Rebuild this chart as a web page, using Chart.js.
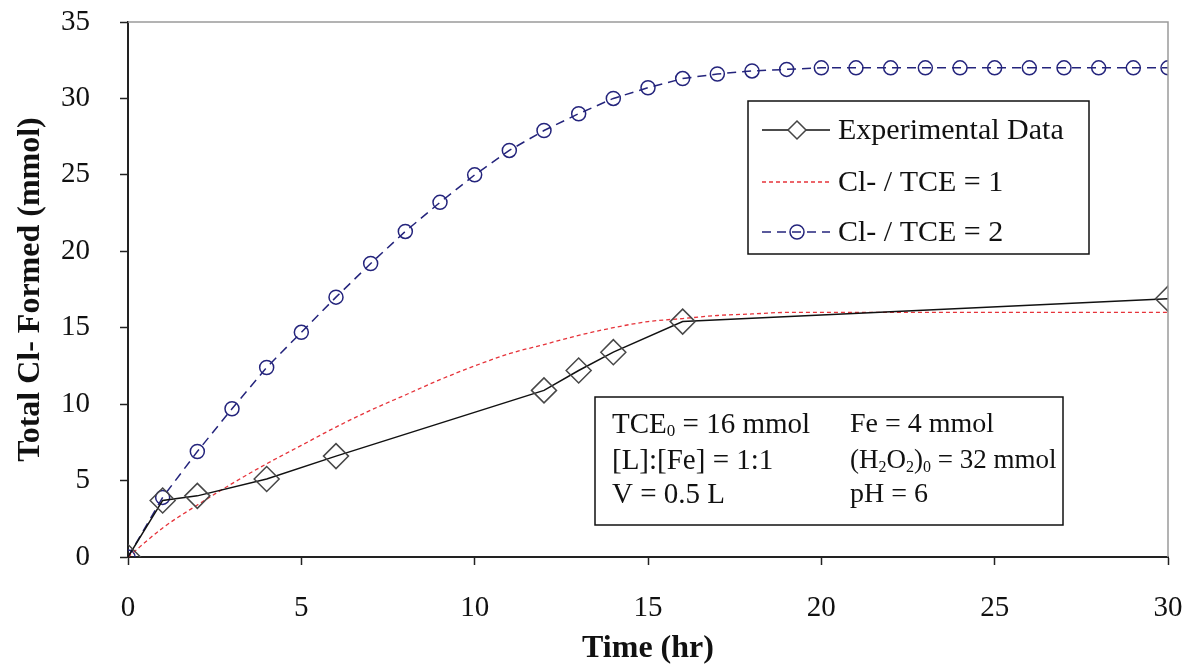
<!DOCTYPE html>
<html>
<head>
<meta charset="utf-8">
<script src="https://cdn.jsdelivr.net/npm/chart.js@4.4.1/dist/chart.umd.min.js"></script>
<style>
  html, body { margin: 0; padding: 0; background: #fff; }
  #wrap { width: 1186px; height: 672px; }
</style>
</head>
<body>
<div id="wrap"><canvas id="chart" width="1186" height="672"></canvas></div>
<script>
// Experimental data (diamonds)
const expTimes = [0, 1, 2, 4, 6, 12, 13, 14, 16, 30];
const expValues = [0, 3.7, 4.0, 5.1, 6.6, 10.9, 12.2, 13.4, 15.4, 16.9];

// Model curves, one value per hour
const modelTimes = [0, 1, 2, 3, 4, 5, 6, 7, 8, 9, 10, 11, 12, 13, 14, 15, 16, 17, 18, 19, 20,
  21, 22, 23, 24, 25, 26, 27, 28, 29, 30];
const ratio1Values = [0, 1.9, 3.4, 4.8, 6.1, 7.3, 8.5, 9.6, 10.6, 11.6, 12.5, 13.3, 13.9, 14.5, 15.0,
  15.4, 15.6, 15.8, 15.9, 16.0, 16.0, 16.0, 16.0, 16.0, 16.0, 16.0, 16.0, 16.0, 16.0, 16.0, 16.0];
const ratio2Values = [0, 3.9, 6.9, 9.7, 12.4, 14.7, 17.0, 19.2, 21.3, 23.2, 25.0, 26.6, 27.9, 29.0, 30.0,
  30.7, 31.3, 31.6, 31.8, 31.9, 32.0, 32.0, 32.0, 32.0, 32.0, 32.0, 32.0, 32.0, 32.0, 32.0, 32.0];

const xTicks = [0, 5, 10, 15, 20, 25, 30];
const yTicks = [0, 5, 10, 15, 20, 25, 30, 35];

const seriesLabels = ['Experimental Data', 'Cl- / TCE = 1', 'Cl- / TCE = 2'];

const SERIF = '"Liberation Serif", "Times New Roman", serif';
const BLUE = '#24247c';
const RED = '#e6333a';

const toPoints = (xs, ys) => xs.map((x, i) => ({ x, y: ys[i] }));

// frame (grey top/right), legend box and condition box
const extras = {
  id: 'extras',
  afterDraw(chart) {
    const { ctx, chartArea: a } = chart;
    ctx.save();
    ctx.strokeStyle = '#9a9a9a';
    ctx.lineWidth = 1.5;
    ctx.beginPath();
    ctx.moveTo(a.left, a.top);
    ctx.lineTo(a.right, a.top);
    ctx.lineTo(a.right, a.bottom);
    ctx.stroke();

    // legend
    const lx = 748, ly = 101, lw = 341, lh = 153;
    ctx.strokeStyle = '#111';
    ctx.lineWidth = 1.5;
    ctx.strokeRect(lx, ly, lw, lh);
    ctx.font = '30px ' + SERIF;
    ctx.fillStyle = '#111';
    ctx.textBaseline = 'middle';
    const rows = [130, 182, 232];
    rows.forEach((ry, i) => {
      const x0 = 762, x1 = 830, xm = 797;
      ctx.save();
      if (i === 0) {
        ctx.strokeStyle = '#111'; ctx.lineWidth = 1.5; ctx.setLineDash([]);
        ctx.beginPath(); ctx.moveTo(x0, ry); ctx.lineTo(x1, ry); ctx.stroke();
        ctx.fillStyle = '#fff';
        ctx.beginPath();
        ctx.moveTo(xm, ry - 9); ctx.lineTo(xm + 9, ry); ctx.lineTo(xm, ry + 9); ctx.lineTo(xm - 9, ry);
        ctx.closePath(); ctx.fill(); ctx.strokeStyle = '#444'; ctx.stroke();
      } else if (i === 1) {
        ctx.strokeStyle = RED; ctx.lineWidth = 1.3; ctx.setLineDash([4, 3]);
        ctx.beginPath(); ctx.moveTo(x0, ry); ctx.lineTo(x1, ry); ctx.stroke();
      } else {
        ctx.strokeStyle = BLUE; ctx.lineWidth = 1.5; ctx.setLineDash([9, 6]);
        ctx.beginPath(); ctx.moveTo(x0, ry); ctx.lineTo(x1, ry); ctx.stroke();
        ctx.setLineDash([]);
        ctx.beginPath(); ctx.arc(xm, ry, 7, 0, Math.PI * 2); ctx.stroke();
      }
      ctx.restore();
      ctx.fillText(seriesLabels[i], 838, ry + 1);
    });

    // conditions box
    const bx = 595, by = 397, bw = 468, bh = 128;
    ctx.strokeRect(bx, by, bw, bh);
    const drawRuns = (x, y, runs, size) => {
      runs.forEach(([txt, sub]) => {
        ctx.font = (sub ? Math.round(size * 0.6) : size) + 'px ' + SERIF;
        ctx.fillText(txt, x, sub ? y + 7 : y);
        x += ctx.measureText(txt).width;
      });
    };
    drawRuns(612, 425, [['TCE'], ['0', 1], [' = 16 mmol']], 29);
    drawRuns(850, 425, [['Fe = 4 mmol']], 28);
    drawRuns(612, 461, [['[L]:[Fe] = 1:1']], 29);
    drawRuns(850, 461, [['(H'], ['2', 1], ['O'], ['2', 1], [')'], ['0', 1], [' = 32 mmol']], 27);
    drawRuns(612, 495, [['V = 0.5 L']], 29);
    drawRuns(850, 495, [['pH = 6']], 28);
    ctx.restore();
  }
};

new Chart(document.getElementById('chart'), {
  type: 'scatter',
  data: {
    datasets: [
      {
        label: seriesLabels[0],
        data: toPoints(expTimes, expValues),
        showLine: true,
        borderColor: '#111',
        borderWidth: 1.5,
        pointStyle: 'rectRot',
        pointRadius: 12.5,
        pointBorderColor: '#474747',
        pointBorderWidth: 1.5,
        pointBackgroundColor: 'rgba(0,0,0,0)'
      },
      {
        label: seriesLabels[1],
        data: toPoints(modelTimes, ratio1Values),
        showLine: true,
        borderColor: RED,
        borderWidth: 1.3,
        borderDash: [4, 3],
        cubicInterpolationMode: 'monotone',
        pointRadius: 0
      },
      {
        label: seriesLabels[2],
        data: toPoints(modelTimes, ratio2Values),
        showLine: true,
        borderColor: BLUE,
        borderWidth: 1.5,
        borderDash: [9, 6],
        pointStyle: 'circle',
        pointRadius: 7,
        pointBorderColor: BLUE,
        pointBorderWidth: 1.5,
        pointBackgroundColor: 'rgba(0,0,0,0)'
      }
    ]
  },
  options: {
    responsive: false,
    animation: false,
    events: [],
    layout: { padding: { left: 0, top: 22, right: 18, bottom: 0 } },
    plugins: { legend: { display: false }, tooltip: { enabled: false } },
    scales: {
      x: {
        type: 'linear',
        min: 0, max: 30,
        afterBuildTicks: s => { s.ticks = xTicks.map(v => ({ value: v })); },
        afterFit: s => { s.height = 115; s.paddingLeft = 0; s.paddingRight = 0; },
        border: { display: true, color: '#222', width: 2 },
        grid: { drawOnChartArea: false, drawTicks: true, tickLength: 8, tickColor: '#222', tickWidth: 1.5 },
        ticks: { color: '#111', padding: 26, font: { family: SERIF, size: 29 } },
        title: { display: true, text: 'Time (hr)', color: '#111', padding: { top: 0, bottom: 4 },
          font: { family: SERIF, size: 32, weight: 'bold' } }
      },
      y: {
        type: 'linear',
        min: 0, max: 35,
        afterBuildTicks: s => { s.ticks = yTicks.map(v => ({ value: v })); },
        afterFit: s => { s.width = 128; s.paddingTop = 0; s.paddingBottom = 0; },
        border: { display: true, color: '#222', width: 2 },
        grid: { drawOnChartArea: false, drawTicks: true, tickLength: 8, tickColor: '#222', tickWidth: 1.5 },
        ticks: { color: '#111', padding: 30, font: { family: SERIF, size: 29 } },
        title: { display: true, text: 'Total Cl- Formed (mmol)', color: '#111', padding: { top: 12, bottom: 0 },
          font: { family: SERIF, size: 32, weight: 'bold' } }
      }
    }
  },
  plugins: [extras]
});
</script>
</body>
</html>
